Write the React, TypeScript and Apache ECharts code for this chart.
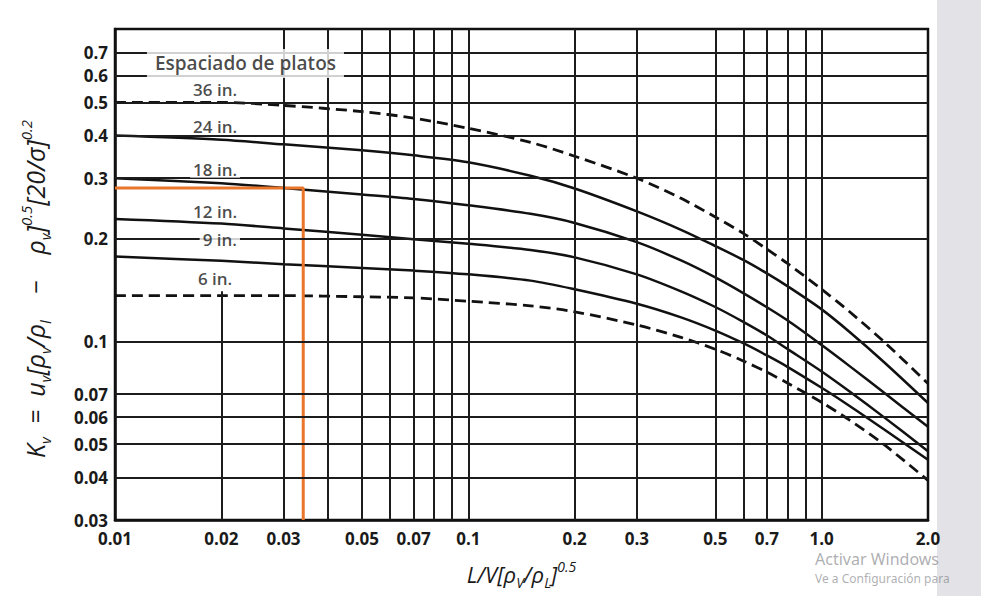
import React, { useEffect, useRef } from 'react';
import * as echarts from 'echarts';

// Flow parameter L/V (rho_V/rho_L)^0.5 sampled along every curve
const flowParameter = [0.01, 0.02, 0.03, 0.05, 0.07, 0.1, 0.15, 0.2, 0.3, 0.4, 0.5, 0.6, 0.7, 0.8, 1.0, 1.2, 1.5, 2.0];

// Capacity parameter K_v for each tray spacing
const kv36 = [0.5, 0.5, 0.49, 0.47, 0.45, 0.42, 0.382, 0.348, 0.3, 0.262, 0.231, 0.207, 0.186, 0.169, 0.142, 0.122, 0.0998, 0.0752];
const kv24 = [0.4, 0.389, 0.377, 0.362, 0.35, 0.334, 0.305, 0.28, 0.24, 0.212, 0.19, 0.173, 0.158, 0.145, 0.124, 0.1065, 0.087, 0.066];
const kv18 = [0.3, 0.29, 0.281, 0.269, 0.261, 0.25, 0.236, 0.222, 0.195, 0.1724, 0.1538, 0.1384, 0.1258, 0.1152, 0.0975, 0.0846, 0.0708, 0.0562];
const kv12 = [0.228, 0.221, 0.214, 0.205, 0.199, 0.193, 0.185, 0.176, 0.157, 0.14, 0.126, 0.114, 0.104, 0.095, 0.0816, 0.0713, 0.06, 0.0477];
const kv9 = [0.177, 0.172, 0.168, 0.164, 0.161, 0.157, 0.1505, 0.142, 0.1288, 0.1175, 0.1075, 0.0987, 0.0909, 0.0842, 0.0731, 0.0647, 0.0553, 0.045];
const kv6 = [0.136, 0.136, 0.136, 0.135, 0.134, 0.131, 0.127, 0.122, 0.1116, 0.1027, 0.0948, 0.0876, 0.0812, 0.0755, 0.0663, 0.0588, 0.0499, 0.0392];

const curveNames = ['36 in.', '24 in.', '18 in.', '12 in.', '9 in.', '6 in.'];
const curveDashed = [true, false, false, false, false, true];
const labelFlow = [0.0192, 0.0192, 0.0192, 0.0192, 0.0198, 0.0192];
const labelK = [0.545, 0.426, 0.319, 0.239, 0.198, 0.1527];
const titleText = 'Espaciado de platos';
const titleFlow = 0.0234;
const titleK = 0.65;

// Orange reading lines
const readFlow = 0.0341;
const readK = 0.281;

// Axis tick labels
const xTickValues = [0.01, 0.02, 0.03, 0.05, 0.07, 0.1, 0.2, 0.3, 0.5, 0.7, 1.0, 2.0];
const xTickTexts = ['0.01', '0.02', '0.03', '0.05', '0.07', '0.1', '0.2', '0.3', '0.5', '0.7', '1.0', '2.0'];
const yTickValues = [0.03, 0.04, 0.05, 0.06, 0.07, 0.1, 0.2, 0.3, 0.4, 0.5, 0.6, 0.7];
const yTickTexts = ['0.03', '0.04', '0.05', '0.06', '0.07', '0.1', '0.2', '0.3', '0.4', '0.5', '0.6', '0.7'];

// Grid lines drawn in the chart
const xGridValues = [0.03, 0.04, 0.05, 0.06, 0.07, 0.08, 0.09, 0.1, 0.2, 0.3, 0.5, 0.6, 0.7, 0.8, 0.9, 1.0];
const xPartialGrid = 0.02;
const xPartialGridTop = 0.14;
const yGridValues = [0.04, 0.05, 0.06, 0.07, 0.1, 0.2, 0.3, 0.4, 0.5, 0.6, 0.7];

const X_MIN = 0.01;
const X_MAX = 2.0;
const Y_MIN = 0.03;
const Y_MAX = 0.82;

const FONT = "'Open Sans', 'DejaVu Sans', sans-serif";

const tickFormatter = (vals: number[], texts: string[]) => (v: number) => {
  for (let i = 0; i < vals.length; i++) {
    if (Math.abs(v - vals[i]) < vals[i] * 1e-6) return texts[i];
  }
  return '';
};

const curves = [kv36, kv24, kv18, kv12, kv9, kv6];

const nameRich = {
  i: { fontSize: 25, fontStyle: 'italic', fontFamily: FONT, color: '#1a1a1a', lineHeight: 34, verticalAlign: 'middle' },
  sb: { fontSize: 15, fontStyle: 'italic', fontFamily: FONT, color: '#1a1a1a', lineHeight: 17, verticalAlign: 'bottom' },
  sp: { fontSize: 15, fontStyle: 'italic', fontFamily: FONT, color: '#1a1a1a', lineHeight: 17, verticalAlign: 'top' },
};

const xNameRich = {
  i: { fontSize: 22, fontStyle: 'italic', fontFamily: FONT, color: '#1a1a1a', lineHeight: 30, verticalAlign: 'middle' },
  sb: { fontSize: 14, fontStyle: 'italic', fontFamily: FONT, color: '#1a1a1a', lineHeight: 15, verticalAlign: 'bottom' },
  sp: { fontSize: 14, fontStyle: 'italic', fontFamily: FONT, color: '#1a1a1a', lineHeight: 15, verticalAlign: 'top' },
};

function buildOption() {
  const gridLineData: any[] = [
    ...xGridValues.map((v) => ({ xAxis: v })),
    ...yGridValues.map((v) => ({ yAxis: v })),
    [{ coord: [xPartialGrid, Y_MIN] }, { coord: [xPartialGrid, xPartialGridTop] }],
  ];

  const curveSeries = curves.map((vals, idx) => ({
    type: 'line',
    name: curveNames[idx],
    data: flowParameter.map((x, i) => [x, vals[i]]),
    showSymbol: false,
    symbol: 'none',
    smooth: 0.3,
    z: 3,
    lineStyle: {
      color: '#111',
      width: curveDashed[idx] ? 2.8 : 2.5,
      type: curveDashed[idx] ? [11, 6] : 'solid',
    },
  }));

  const labelData: any[] = curveNames.map((n, i) => [labelFlow[i], labelK[i], n]);

  return {
    animation: false,
    backgroundColor: '#ffffff',
    grid: {
      left: 115,
      right: 53,
      top: 29,
      bottom: 76,
      show: true,
      borderColor: '#111',
      borderWidth: 2.5,
      backgroundColor: '#fff',
    },
    xAxis: {
      type: 'log',
      logBase: 10,
      min: X_MIN,
      max: X_MAX,
      name: '{i|L/V[ρ}{sb|V}{i|/ρ}{sb|L}{i|]}{sp|0.5}',
      nameLocation: 'middle',
      nameGap: 39,
      nameTextStyle: { rich: xNameRich },
      axisLine: { show: true, lineStyle: { color: '#111', width: 2.5 } },
      axisTick: { show: false },
      splitLine: { show: false },
      minorTick: { show: false },
      axisLabel: {
        customValues: xTickValues,
        formatter: tickFormatter(xTickValues, xTickTexts),
        fontFamily: FONT,
        fontWeight: 700,
        fontSize: 17,
        color: '#1a1a1a',
        margin: 10,
      },
    },
    yAxis: {
      type: 'log',
      logBase: 10,
      min: Y_MIN,
      max: Y_MAX,
      name: '{i|K}{sb|v}{i|  =  u}{sb|v}{i|[ρ}{sb|v}{i|/ρ}{sb|l}{i|    −    ρ}{sb|v}{i|]}{sp|0.5}{i|[20/σ]}{sp|0.2}',
      nameLocation: 'middle',
      nameGap: 63,
      nameTextStyle: { rich: nameRich, padding: [0, 29, 0, 0] },
      axisLine: { show: true, lineStyle: { color: '#111', width: 2.5 } },
      axisTick: { show: false },
      splitLine: { show: false },
      minorTick: { show: false },
      axisLabel: {
        customValues: yTickValues,
        formatter: tickFormatter(yTickValues, yTickTexts),
        fontFamily: FONT,
        fontWeight: 700,
        fontSize: 17,
        color: '#1a1a1a',
        margin: 7,
      },
    },
    graphic: [
      {
        type: 'rect',
        z: -10,
        silent: true,
        shape: { x: 937, y: 0, width: 44, height: 596 },
        style: { fill: '#e3e2e7' },
      },
      {
        type: 'text',
        z: 100,
        silent: true,
        x: 815,
        y: 551,
        style: { text: 'Activar Windows', fontSize: 16, fontFamily: "'Noto Sans', sans-serif", fill: 'rgba(120,120,125,0.6)' },
      },
      {
        type: 'text',
        z: 100,
        silent: true,
        x: 815,
        y: 572,
        style: { text: 'Ve a Configuración para', fontSize: 12, fontFamily: "'Noto Sans', sans-serif", fill: 'rgba(120,120,125,0.6)' },
      },
    ],
    series: [
      {
        type: 'line',
        name: 'grid',
        data: [[X_MIN, Y_MIN]],
        showSymbol: false,
        symbol: 'none',
        lineStyle: { width: 0 },
        z: 1,
        markLine: {
          silent: true,
          symbol: 'none',
          animation: false,
          label: { show: false },
          lineStyle: { color: '#1c1c1c', width: 2, type: 'solid' },
          data: gridLineData,
        },
      },
      ...curveSeries,
      {
        type: 'line',
        name: 'lectura',
        data: [
          [X_MIN, readK],
          [readFlow, readK],
          [readFlow, Y_MIN],
        ],
        showSymbol: false,
        symbol: 'none',
        z: 4,
        lineStyle: { color: '#e9762b', width: 3 },
      },
      {
        type: 'scatter',
        name: 'labels',
        data: labelData,
        symbolSize: 0,
        z: 5,
        label: {
          show: true,
          position: 'inside',
          formatter: (p: any) => p.data[2],
          fontFamily: FONT,
          fontWeight: 600,
          fontSize: 17,
          color: '#1a1a1a',
          backgroundColor: '#fff',
          padding: [0, 3],
        },
      },
      {
        type: 'scatter',
        name: 'title',
        data: [[titleFlow, titleK, titleText]],
        symbolSize: 0,
        z: 5,
        label: {
          show: true,
          position: 'inside',
          formatter: (p: any) => p.data[2],
          fontFamily: FONT,
          fontWeight: 600,
          fontSize: 19,
          color: '#1a1a1a',
          backgroundColor: '#fff',
          padding: [5, 8],
        },
      },
    ],
  };
}

export default function App() {
  const ref = useRef<HTMLDivElement>(null);
  useEffect(() => {
    if (!ref.current) return;
    const chart = echarts.init(ref.current, undefined, { renderer: 'svg' });
    chart.setOption(buildOption() as any);
    return () => chart.dispose();
  }, []);
  return (
    <div
      ref={ref}
      style={{ position: 'fixed', left: 0, top: 0, width: 981, height: 596, background: '#fff' }}
    />
  );
}
